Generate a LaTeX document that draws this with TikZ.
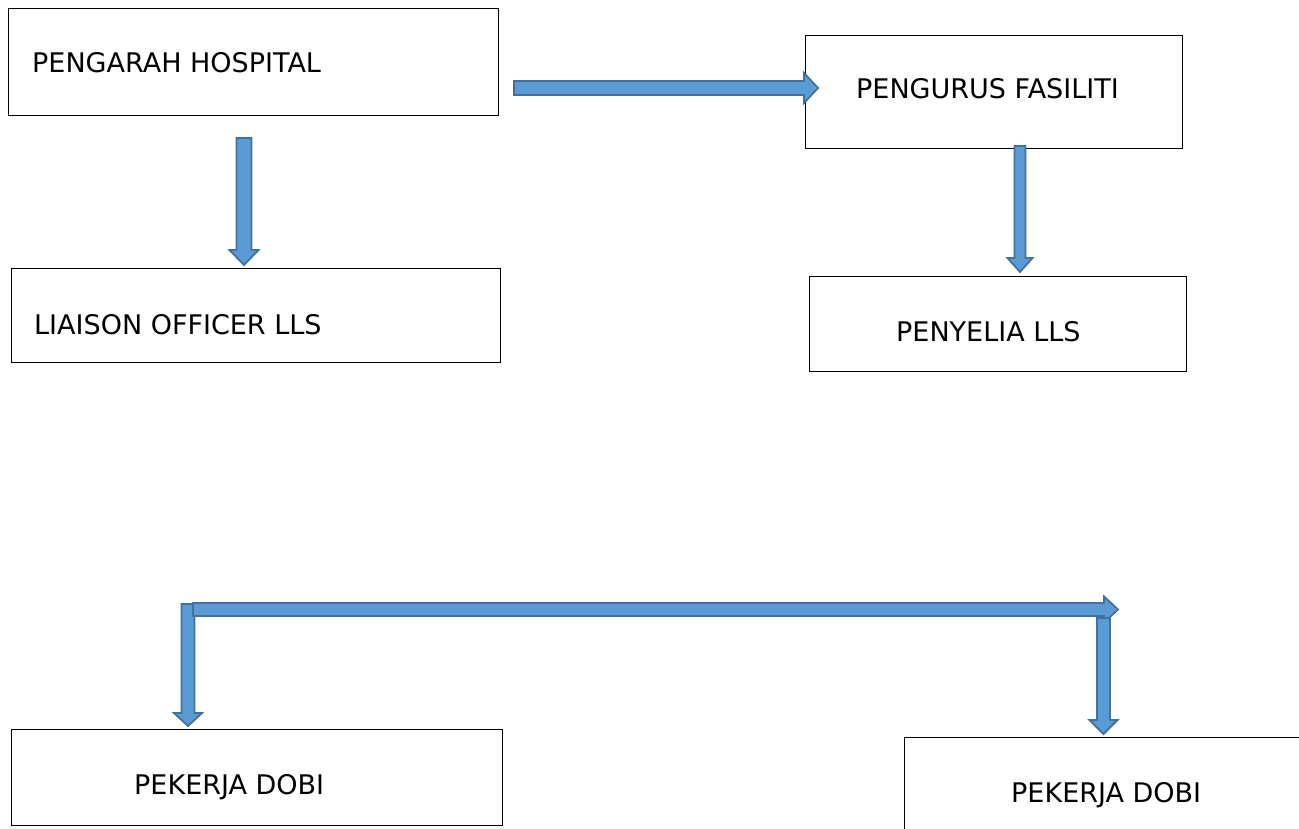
\documentclass[tikz,border=0pt]{standalone}
\usepackage{fontspec}
\setmainfont{DejaVu Sans}
\usetikzlibrary{calc}
\definecolor{afill}{HTML}{5B9BD5}
\definecolor{aline}{HTML}{41719C}
\tikzset{
  box/.style={draw=black, line width=1.4pt, fill=white, anchor=north west, inner sep=0pt},
  lbl/.style={font=\fontsize{27}{31}\selectfont, inner sep=0pt, anchor=base west},
  blk/.style={fill=afill, draw=aline, line width=1.8pt, line join=miter},
}
% vertical block arrow: x-center, y-start, y-tip, half shaft, half head, head length
\newcommand{\blkdn}[6]{%
  \draw[blk] (#1-#4,#2) -- (#1+#4,#2) -- (#1+#4,#3-#6) -- (#1+#5,#3-#6) -- (#1,#3)
    -- (#1-#5,#3-#6) -- (#1-#4,#3-#6) -- cycle;}
% horizontal block arrow: y-center, x-start, x-tip, half shaft, half head, head length
\newcommand{\blkrt}[6]{%
  \draw[blk] (#2,#1-#4) -- (#3-#6,#1-#4) -- (#3-#6,#1-#5) -- (#3,#1) -- (#3-#6,#1+#5)
    -- (#3-#6,#1+#4) -- (#2,#1+#4) -- cycle;}
\begin{document}
\begin{tikzpicture}[x=1pt,y=-1pt]
\useasboundingbox (0,0) rectangle (1299,829);
\fill[white] (0,0) rectangle (1299,829);

% boxes
\node[box, minimum width=490, minimum height=107] (dir) at (8,8) {};
\node[lbl] (dirT) at (32,73) {PENGARAH HOSPITAL};

\node[box, minimum width=377, minimum height=113] (fac) at (805,35) {};
\node[lbl] (facT) at (856,99) {PENGURUS FASILITI};

\node[box, minimum width=489, minimum height=94] (lia) at (11,268) {};
\node[lbl] (liaT) at (34,334) {LIAISON OFFICER LLS};

\node[box, minimum width=377, minimum height=95] (sup) at (809,276) {};
\node[lbl] (supT) at (896,341) {PENYELIA LLS};

\node[box, minimum width=491, minimum height=96] (dob1) at (11,729) {};
\node[lbl] (dob1T) at (134,794) {PEKERJA DOBI};

\node[box, minimum width=420, minimum height=120] (dob2) at (904,737) {};
\node[lbl] (dob2T) at (1011,802) {PEKERJA DOBI};

% block arrows
\blkrt{88}{514}{818}{7}{15}{14}
\blkdn{244}{138}{265}{7.5}{14.5}{15}
\blkdn{1020}{146}{272}{5.5}{12.5}{14}

% bottom bent arrows
\blkdn{188}{604}{726}{6.5}{14}{13}
\blkrt{609.5}{193}{1118}{6.5}{13}{14}
\blkdn{1103.5}{618}{734}{6.5}{14}{14}
\end{tikzpicture}
\end{document}
